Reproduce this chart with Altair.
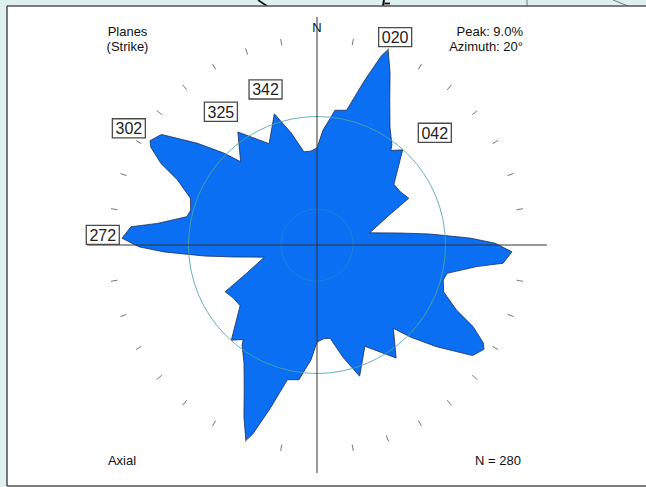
import math
import altair as alt
import pandas as pd

# Rose outline for one half of the compass: azimuth (deg) and frequency (%).
# Strikes are axial, so the opposite half repeats these values 180 deg on.
AZIMUTH = [0, 3, 5.9, 7.6, 12.4, 16, 18.8, 20, 23, 26.7,
           31.7, 36.8, 38, 42,
           51.7, 57.5, 63, 67.8, 77, 81.8, 84.4, 87.4, 89.4, 92,
           95.6, 97.7, 102.3, 105.5, 110.3, 115, 117.6, 120.5, 122, 125.4,
           130.4, 134.6, 137.5, 145, 154.7, 162, 167, 172, 176]
PERCENT = [4.20, 4.98, 5.50, 5.88, 5.97, 7.36, 8.65, 9.0, 8.09, 7.01,
           6.01, 5.41, 5.19, 5.54,
           4.24, 4.28, 4.46, 3.33, 2.34, 3.63, 4.89, 6.62, 7.70, 8.44,
           8.09, 6.97, 5.76, 5.67, 5.84, 6.66, 7.62, 8.35, 8.52, 8.26,
           6.79, 5.67, 4.89, 5.97, 4.85, 5.97, 4.98, 4.07, 4.07]

PEAK_PCT = 9.0
PEAK_AZ = 20
N_COUNT = 280

# Reference circles (%): uniform frequency for 10 deg classes and inner ring
RING_PCT = [5.56, 1.56]
RING_ALPHA = [0.85, 0.3]

# Labelled maxima (azimuths) and where their boxes sit (azimuth, radius %)
LABEL_AZ = [20, 42, 272, 302, 325, 342]
LABEL_AT_AZ = [20.6, 46.4, 272.7, 301.8, 324.2, 341.7]
LABEL_AT_R = [9.61, 7.04, 9.28, 9.58, 7.11, 7.09]

# ---- geometry of the drawing -------------------------------------------
K = 23.11            # pixels per percent
W, H = 639, 480      # panel size
CX, CY = 310, 239    # rose centre inside the panel
FONT = "Liberation Sans"
BLUE = "#0a6ff2"
TEAL = "#4fa8a8"

xs = alt.Scale(domain=[-CX / K, (W - CX) / K], nice=False, zero=False)
ys = alt.Scale(domain=[-(H - CY) / K, CY / K], nice=False, zero=False)


def X(f):
    return alt.X(f, type="quantitative", scale=xs, axis=None)


def Y(f):
    return alt.Y(f, type="quantitative", scale=ys, axis=None)


SIN = "sin(datum.az * PI / 180)"
COS = "cos(datum.az * PI / 180)"

outline = pd.DataFrame({
    "az": AZIMUTH + [a + 180 for a in AZIMUTH],
    "pct": PERCENT + PERCENT,
})
ticks = pd.DataFrame({"az": [a for a in range(10, 360, 10) if a % 90 != 0]})
rings = pd.DataFrame({"pct": RING_PCT, "alpha": RING_ALPHA,
                      "x0": [0, 0], "y0": [0, 0]})
labels = pd.DataFrame({
    "az": LABEL_AT_AZ,
    "r": LABEL_AT_R,
    "text": [f"{a:03d}" for a in LABEL_AZ],
})
ns_axis = pd.DataFrame({"a": [-9.87], "b": [9.87], "z": [0]})
ew_axis = pd.DataFrame({"a": [-9.95], "b": [9.95], "z": [0]})

# ---- fragments above the panel, then the panel itself ------------------
blank = pd.DataFrame({"k": [0]})
frag_lines = pd.DataFrame({
    "x": [251, 377, 377.5, 520, 606],
    "x2": [260, 376, 383, 520, 621],
    "y": [-6, -6, -2.5, -6, -6],
    "y2": [0, 0, -2.5, 0, 0],
    "c": ["#111111", "#111111", "#111111", "#777777", "#777777"],
    "w": [1.6, 2, 1.8, 1, 1],
})
frags = alt.Chart(frag_lines).mark_rule().encode(
    x=alt.X("x:Q", scale=None, axis=None), x2="x2",
    y=alt.Y("y:Q", scale=None, axis=None), y2="y2",
    color=alt.Color("c:N", scale=None, legend=None),
    strokeWidth=alt.StrokeWidth("w:Q", scale=None, legend=None),
)

panel = alt.Chart(blank).mark_rect(color="white").encode(
    x=alt.value(0), x2=alt.value(W + 10), y=alt.value(0), y2=alt.value(H)
)
border_rules = pd.DataFrame({
    "x": [0, 0, 0], "x2": [W + 10, 0, W + 10],
    "y": [0, 0, H], "y2": [0, H, H],
})
border = alt.Chart(border_rules).mark_rule(color="#555555", strokeWidth=1.6).encode(
    x=alt.X("x:Q", scale=None, axis=None), x2="x2",
    y=alt.Y("y:Q", scale=None, axis=None), y2="y2",
)

# ---- rose ---------------------------------------------------------------
rose = alt.Chart(outline).transform_calculate(
    x=f"datum.pct * {SIN}", y=f"datum.pct * {COS}"
).mark_line(
    interpolate="linear-closed", fill=BLUE, stroke="#1b2d5c", strokeWidth=0.8
).encode(x=X("x"), y=Y("y"), order=alt.Order("az:Q"))

ring = alt.Chart(rings).mark_arc(
    theta=0, theta2=2 * math.pi, fill="transparent", stroke=TEAL, strokeWidth=1,
).encode(
    x=X("x0"), y=Y("y0"),
    radius=alt.Radius("pct:Q", stack=None,
                      scale=alt.Scale(type="linear", domain=[0, 10],
                                      range=[0, 10 * K], zero=True)),
    opacity=alt.Opacity("alpha:Q", scale=None, legend=None),
)

vline = alt.Chart(ns_axis).mark_rule(color="#333333", strokeWidth=1).encode(
    x=X("z"), y=Y("a"), y2="b"
)
hline = alt.Chart(ew_axis).mark_rule(color="#333333", strokeWidth=1).encode(
    y=Y("z"), x=X("a"), x2="b"
)

tick_marks = alt.Chart(ticks).transform_calculate(
    x=f"8.77 * {SIN}", y=f"8.77 * {COS}",
    x2=f"9.05 * {SIN}", y2=f"9.05 * {COS}",
).mark_rule(color="#666666", strokeWidth=0.9).encode(
    x=X("x"), y=Y("y"), x2="x2:Q", y2="y2:Q"
)

label_pos = alt.Chart(labels).transform_calculate(
    x=f"datum.r * {SIN}", y=f"datum.r * {COS}"
)
boxes = label_pos.mark_point(
    shape="M-1,-0.58H1V0.58H-1Z", size=33 * 33, filled=True, fill="white",
    stroke="#4a4a4a", strokeWidth=1.3, opacity=1,
).encode(x=X("x"), y=Y("y"))
box_text = label_pos.mark_text(
    font=FONT, fontSize=16, color="#222222", align="center", baseline="middle", dy=1
).encode(x=X("x"), y=Y("y"), text="text:N")


# ---- annotations ---------------------------------------------------------
def note(txt, x, y, align="center"):
    return alt.Chart(blank).mark_text(
        text=txt, font=FONT, fontSize=13, color="#111111", lineBreak="\n",
        lineHeight=15, align=align, baseline="alphabetic",
    ).encode(x=alt.value(x), y=alt.value(y))


notes = [
    note("Planes\n(Strike)", 120.5, 30),
    note(f"Peak: {PEAK_PCT:.1f}%\nAzimuth: {PEAK_AZ}\u00b0", 516, 30, "right"),
    note("N", 310, 26.3),
    note("Axial", 115, 459),
    note(f"N = {N_COUNT}", 491, 459),
]

chart = alt.layer(
    frags, panel, border, rose, ring, vline, hline, tick_marks,
    boxes, box_text, *notes
).properties(
    width=W, height=H,
    padding={"left": 7, "top": 6, "right": 0, "bottom": 1},
    autosize=alt.AutoSizeParams(type="none"),
    background="#dff1ef",
).configure_view(stroke=None)

chart.save("out.html", embed_options={"renderer": "svg", "actions": False})
